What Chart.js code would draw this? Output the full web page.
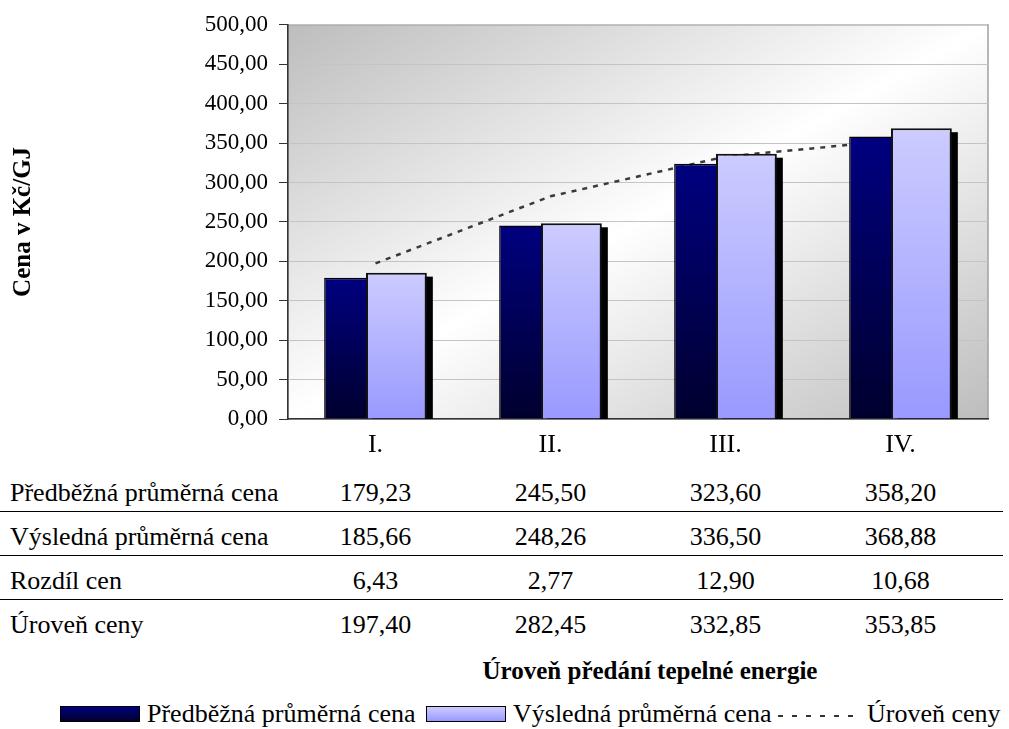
<!DOCTYPE html>
<html>
<head>
<meta charset="utf-8">
<script src="https://cdn.jsdelivr.net/npm/chart.js@4.4.0/dist/chart.umd.min.js"></script>
<style>
  html, body { margin: 0; padding: 0; background: #fff; }
  body { width: 1009px; height: 729px; position: relative; overflow: hidden;
         font-family: "Liberation Serif", "Times New Roman", serif; color: #000; }
  #chart { position: absolute; left: 0; top: 0; }
  .t { position: absolute; font-size: 26px; line-height: 30px; white-space: nowrap; }
  .mid { transform: translateX(-50%); }
  .rule { position: absolute; left: 0; width: 1003px; height: 0; border-top: 1px solid #000; }
  #xtitle { font-weight: bold; font-size: 25px; }
  .sw { position: absolute; top: 706px; width: 78px; height: 14px; border: 1px solid #000; }
</style>
</head>
<body>
<canvas id="chart" width="1009" height="470"></canvas>
<div id="table"></div>
<div class="t mid" id="xtitle" style="left:650px; top:656px;">Úroveň předání tepelné energie</div>
<div id="legend">
  <div class="sw" style="left:60px; background:linear-gradient(#000080,#00002e);"></div>
  <div class="t" style="left:147px; top:699px;">Předběžná průměrná cena</div>
  <div class="sw" style="left:426px; background:linear-gradient(#ccccff,#9999ff);"></div>
  <div class="t" style="left:513px; top:699px;">Výsledná průměrná cena</div>
  <svg style="position:absolute; left:778px; top:706px;" width="82" height="16">
    <line x1="0" y1="10" x2="82" y2="10" stroke="#333" stroke-width="2" stroke-dasharray="5,9"></line>
  </svg>
  <div class="t" style="left:867px; top:699px;">Úroveň ceny</div>
</div>
<script>
var categories = ["I.", "II.", "III.", "IV."];
var seriesNames = ["Předběžná průměrná cena", "Výsledná průměrná cena", "Rozdíl cen", "Úroveň ceny"];
var predbezna = [179.23, 245.50, 323.60, 358.20];
var vysledna = [185.66, 248.26, 336.50, 368.88];
var rozdil = [6.43, 2.77, 12.90, 10.68];
var uroven = [197.40, 282.45, 332.85, 353.85];
var yTicks = [0, 50, 100, 150, 200, 250, 300, 350, 400, 450, 500];

function fmt(v) {
  return Number(v).toFixed(2).replace(".", ",");
}

// svisly prechod pro kazdy sloupec zvlast
function barFill(top, bottom) {
  return function (c) {
    var chart = c.chart, a = chart.chartArea;
    if (!a || c.type !== "data") return bottom;
    var y = chart.scales.y.getPixelForValue(c.raw);
    var g = chart.ctx.createLinearGradient(0, y, 0, a.bottom);
    g.addColorStop(0, top);
    g.addColorStop(1, bottom);
    return g;
  };
}

var plotBg = {
  id: "plotBg",
  beforeDraw: function (chart) {
    var a = chart.chartArea, ctx = chart.ctx;
    var w = a.right - a.left, h = a.bottom - a.top;
    var cx = a.left + w / 2, cy = a.top + h / 2;
    var len = Math.hypot(w, h);
    var ux = h / len, uy = w / len;
    var k = w * h / len;
    var g = ctx.createLinearGradient(cx - k * ux, cy - k * uy, cx + k * ux, cy + k * uy);
    g.addColorStop(0, "#bdbdbd");
    g.addColorStop(0.5, "#ffffff");
    g.addColorStop(1, "#bdbdbd");
    ctx.save();
    ctx.fillStyle = g;
    ctx.fillRect(a.left, a.top, w, h);
    ctx.strokeStyle = "#a0a0a0";
    ctx.lineWidth = 1.5;
    ctx.strokeRect(a.left, a.top, w, h);
    ctx.restore();
  }
};

// svetle sloupce maji byt pred tmavymi, kresli se az nakonec (se stinem)
var lateBars = {
  id: "lateBars",
  beforeDatasetDraw: function (chart, args) {
    if (args.index === 1) return false;
  },
  afterDatasetsDraw: function (chart) {
    var ctx = chart.ctx, a = chart.chartArea;
    var meta = chart.getDatasetMeta(1);
    ctx.save();
    ctx.beginPath();
    ctx.rect(a.left, a.top, a.right - a.left, a.bottom - a.top);
    ctx.clip();
    ctx.fillStyle = "#000";
    meta.data.forEach(function (el) {
      var p = el.getProps(["x", "y", "width", "base"], true);
      ctx.fillRect(p.x - p.width / 2 + 6, p.y + 4, p.width, p.base - p.y);
    });
    meta.controller.draw();
    ctx.restore();
  }
};

Chart.defaults.font.family = '"Liberation Serif", "Times New Roman", serif';
Chart.defaults.color = "#000";

var chart = new Chart(document.getElementById("chart"), {
  type: "bar",
  data: {
    labels: categories,
    datasets: [
      {
        label: seriesNames[0],
        data: predbezna,
        backgroundColor: barFill("#000080", "#00002e"),
        borderColor: "#000",
        borderWidth: 1.5,
        categoryPercentage: 0.478,
        barPercentage: 1.455,
        order: 0,
        clip: 0
      },
      {
        label: seriesNames[1],
        data: vysledna,
        backgroundColor: barFill("#ccccff", "#9999ff"),
        borderColor: "#111",
        borderWidth: 2,
        categoryPercentage: 0.478,
        barPercentage: 1.455,
        order: 1,
        clip: 0
      },
      {
        type: "line",
        label: seriesNames[3],
        data: uroven,
        borderColor: "#3a3a3a",
        borderWidth: 2.5,
        borderDash: [5, 6],
        pointRadius: 0,
        fill: false,
        tension: 0,
        order: 2
      }
    ]
  },
  options: {
    responsive: false,
    animation: false,
    devicePixelRatio: 1,
    layout: { padding: { top: 22, right: 21, left: 0, bottom: 0 } },
    plugins: {
      legend: { display: false },
      tooltip: { enabled: false }
    },
    scales: {
      x: {
        offset: true,
        grid: { display: false, drawTicks: false },
        border: { display: true, color: "#333", width: 1.5 },
        ticks: { font: { size: 26 }, padding: 11, maxRotation: 0, color: "#000" },
        afterFit: function (s) { s.height = 51; }
      },
      y: {
        min: yTicks[0],
        max: yTicks[yTicks.length - 1],
        ticks: {
          stepSize: yTicks[1] - yTicks[0],
          font: { size: 23 },
          padding: 11,
          color: "#000",
          callback: function (v) { return fmt(v); }
        },
        grid: { color: "#c4c4c4", lineWidth: 1, tickLength: 9, tickColor: "#333" },
        border: { display: true, color: "#333", width: 1.5 },
        title: {
          display: true,
          text: "Cena v Kč/GJ",
          font: { size: 25, weight: "bold" },
          color: "#000",
          padding: { top: 9, bottom: 0 }
        },
        afterFit: function (s) { s.width = 288; }
      }
    }
  },
  plugins: [plotBg, lateBars]
});

// tabulka hodnot pod grafem, sloupce podle osy x
var table = document.getElementById("table");
var rows = [predbezna, vysledna, rozdil, uroven];
var xs = categories.map(function (c, i) { return chart.scales.x.getPixelForValue(i); });

rows.forEach(function (vals, r) {
  var top = 478 + r * 44;
  var name = document.createElement("div");
  name.className = "t";
  name.style.left = "10px";
  name.style.top = top + "px";
  name.textContent = seriesNames[r];
  table.appendChild(name);
  vals.forEach(function (v, i) {
    var d = document.createElement("div");
    d.className = "t mid";
    d.style.left = xs[i] + "px";
    d.style.top = top + "px";
    d.textContent = fmt(v);
    table.appendChild(d);
  });
  if (r < rows.length - 1) {
    var line = document.createElement("div");
    line.className = "rule";
    line.style.top = (511 + r * 44) + "px";
    table.appendChild(line);
  }
});
</script>
</body>
</html>
